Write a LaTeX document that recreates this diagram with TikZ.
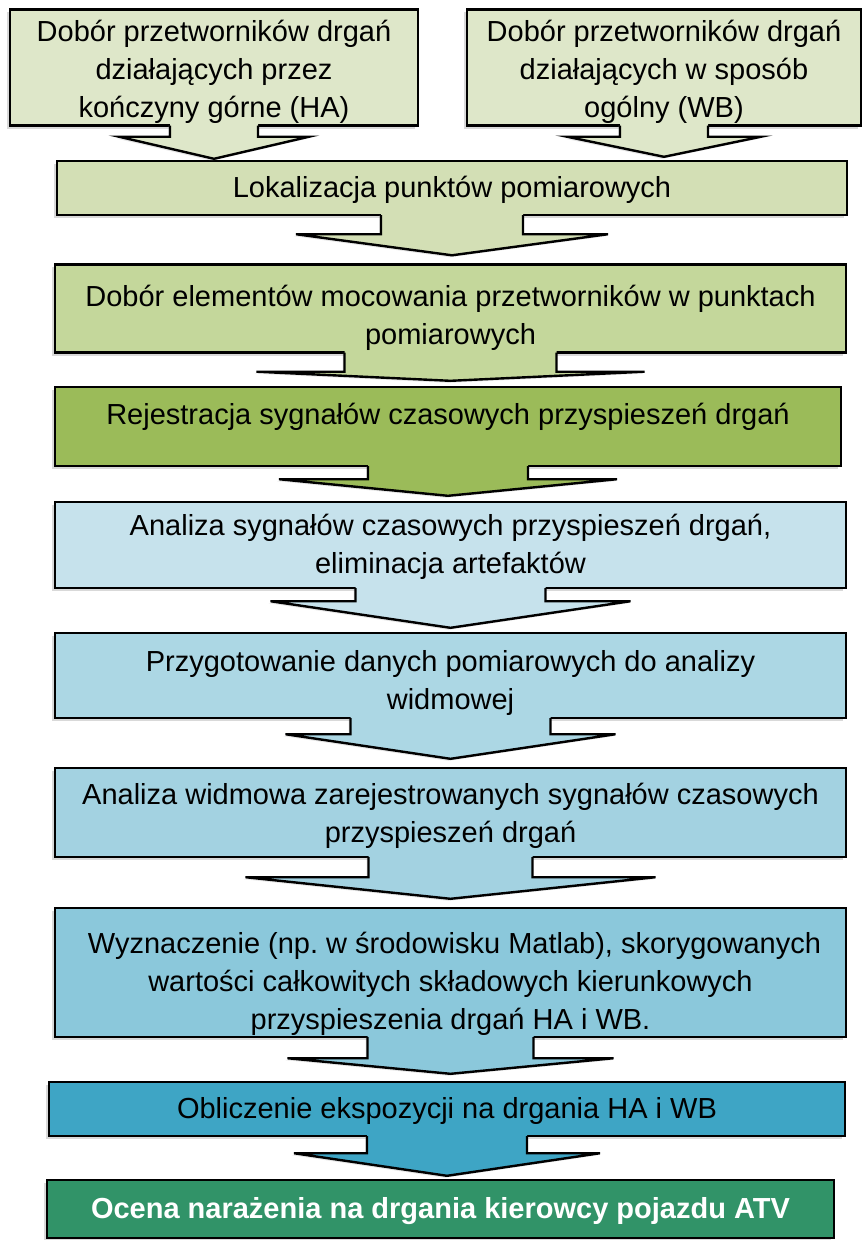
\documentclass[tikz,border=0pt]{standalone}
\usepackage{fontspec}
\setmainfont{Liberation Sans}
\usepackage{xcolor}
\usepackage{tikz}
\usetikzlibrary{positioning, calc, shadows}
\definecolor{grA}{RGB}{222,231,201}
\definecolor{grB}{RGB}{211,223,181}
\definecolor{grC}{RGB}{196,215,155}
\definecolor{grD}{RGB}{155,187,89}
\definecolor{blA}{RGB}{198,226,236}
\definecolor{blB}{RGB}{172,215,228}
\definecolor{blC}{RGB}{163,210,225}
\definecolor{blD}{RGB}{139,200,219}
\definecolor{blE}{RGB}{62,165,197}
\definecolor{grE}{RGB}{49,147,104}
\tikzset{
  box/.style={rectangle, draw=black, line width=2.4pt, align=center,
              inner sep=2pt, font=\fontsize{29}{38}\selectfont,
              drop shadow={shadow xshift=-3pt, shadow yshift=-3pt, opacity=.3}},
  arr/.style={draw=black, line width=2.4pt, line join=miter},
  arrsh/.style={drop shadow={shadow xshift=-2pt, shadow yshift=-2pt, opacity=.2}}
}
% block arrow: colour, from, to, stem half, head half, shoulder drop, tip gap
\newcommand{\blockarr}[7]{%
  \fill[#1, arrsh] let \p1=(#2.south), \p2=(#3.north) in
    (\x1-#4pt,\y1+3.2pt) -- (\x1-#4pt,\y1-#6pt) -- (\x1-#5pt,\y1-#6pt)
    -- (\x1,\y2+#7pt) -- (\x1+#5pt,\y1-#6pt) -- (\x1+#4pt,\y1-#6pt)
    -- (\x1+#4pt,\y1+3.2pt) -- cycle;
  \draw[arr] let \p1=(#2.south), \p2=(#3.north) in
    (\x1-#4pt,\y1+1.2pt) -- (\x1-#4pt,\y1-#6pt) -- (\x1-#5pt,\y1-#6pt)
    -- (\x1,\y2+#7pt) -- (\x1+#5pt,\y1-#6pt) -- (\x1+#4pt,\y1-#6pt)
    -- (\x1+#4pt,\y1+1.2pt);
}
\frenchspacing

\begin{document}
\begin{tikzpicture}[x=1pt, y=-1pt]
  \useasboundingbox (0,0) rectangle (862,1240);
  % two starting boxes
  \node[box, fill=grA, minimum width=408pt, minimum height=111pt] (ha) at (214,67.5)
    {\rule{0pt}{30pt}Dobór przetworników drgań\\działających przez\\kończyny górne (HA)};
  \node[box, fill=grA, minimum width=394pt, minimum height=111pt] (wb) at (664,67.5)
    {\rule{0pt}{30pt}Dobór przetworników drgań\\działających w sposób\\ogólny (WB)};
  % main chain
  \node[box, fill=grB, minimum width=790pt, minimum height=54pt] (lok) at (452,188)
    {\rule{0pt}{25pt}Lokalizacja punktów pomiarowych};
  \node[box, fill=grC, minimum width=791pt, minimum height=73pt] (moc) at (450.5,308.5)
    {\rule{0pt}{40pt}Dobór elementów mocowania przetworników w punktach\\pomiarowych};
  \node[box, fill=grD, minimum width=786pt, minimum height=79pt] (rej) at (448,426.5)
    {Rejestracja sygnałów czasowych przyspieszeń drgań\rule[-25pt]{0pt}{0pt}};
  \node[box, fill=blA, minimum width=791pt, minimum height=86pt] (ana) at (450.5,545)
    {\rule{0pt}{25pt}Analiza sygnałów czasowych przyspieszeń drgań,\\eliminacja artefaktów};
  \node[box, fill=blB, minimum width=791pt, minimum height=85pt] (prz) at (450.5,675.5)
    {\rule{0pt}{35pt}Przygotowanie danych pomiarowych do analizy\\widmowej};
  \node[box, fill=blC, minimum width=791pt, minimum height=89pt] (wid) at (450.5,812.5)
    {\rule{0pt}{27pt}Analiza widmowa zarejestrowanych sygnałów czasowych\\przyspieszeń drgań};
  \node[box, fill=blD, minimum width=791pt, minimum height=121pt] (wyz) at (450.5,972.5)
    {\rule{0pt}{43pt}\hspace{8pt}Wyznaczenie (np. w środowisku Matlab), skorygowanych\\wartości całkowitych składowych kierunkowych\\przyspieszenia drgań HA i WB.};
  \node[box, fill=blE, minimum width=796pt, minimum height=54pt] (obl) at (447,1109)
    {\rule{0pt}{25pt}Obliczenie ekspozycji na drgania HA i WB};
  \node[box, fill=grE, text=white, minimum width=787pt, minimum height=58pt,
        font=\fontsize{29}{38}\selectfont\bfseries] (oce) at (440.5,1209)
    {\rule{0pt}{25pt}Ocena narażenia na drgania kierowcy pojazdu ATV};
  % arrows
  \blockarr{grA}{ha}{lok}{44}{95}{10}{1}
  \blockarr{grA}{wb}{lok}{44}{97}{10}{3}
  \blockarr{grB}{lok}{moc}{71}{156}{18}{8}
  \blockarr{grC}{moc}{rej}{106}{194}{18}{5}
  \blockarr{grD}{rej}{ana}{80}{169}{12}{5}
  \blockarr{blA}{ana}{prz}{95}{180}{12}{4}
  \blockarr{blB}{prz}{wid}{100}{165}{15}{8}
  \blockarr{blC}{wid}{wyz}{82}{205}{19}{8}
  \blockarr{blD}{wyz}{obl}{83}{163}{20}{7}
  \blockarr{blE}{obl}{oce}{80}{153}{16}{3}
\end{tikzpicture}
\end{document}
